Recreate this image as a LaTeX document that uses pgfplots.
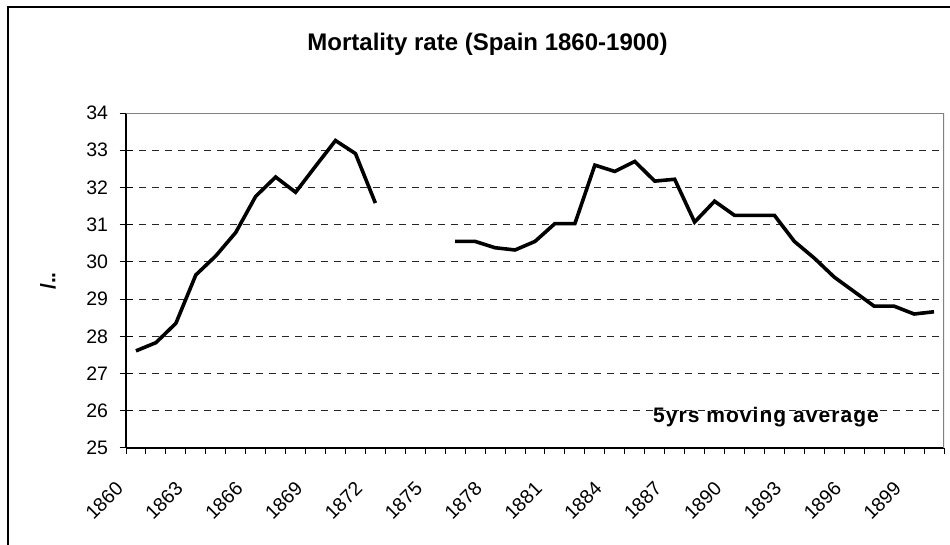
\documentclass[border=0pt]{standalone}
\usepackage{pgfplots}
\pgfplotsset{compat=1.18}
\usepackage{fontspec}
\setmainfont{Liberation Sans}
\begin{document}
\begin{tikzpicture}
\useasboundingbox (0,0) rectangle (950pt,545pt);
\fill[white] (0,0) rectangle (950pt,545pt);
\begin{axis}[
  at={(126pt,97pt)}, anchor=south west,
  scale only axis, width=818pt, height=335pt,
  xmin=1859.5, xmax=1900.5, ymin=25, ymax=34,
  axis lines*=left,
  axis line style={black, line width=1.5pt},
  ytick={25,26,...,34},
  xtick={1860,1863,...,1899},
  xticklabels={1860,1863,1866,1869,1872,1875,1878,1881,1884,1887,1890,1893,1896,1899},
  minor xtick={1859.5,1860.5,...,1900.5},
  major x tick style={draw=none},
  minor x tick style={black, line width=1pt},
  minor tick length=6pt,
  xtick align=outside,
  ytick align=center,
  major tick length=13pt,
  major y tick style={black, line width=1pt},
  ymajorgrids,
  major grid style={black!85, line width=1pt, dash pattern=on 7pt off 6pt},
  /pgf/number format/assume math mode=true,
  tick label style={font=\fontsize{19.5}{22}\selectfont},
  yticklabel style={xshift=-8pt},
  xticklabel style={xshift=-14pt, yshift=-22pt, rotate=45, anchor=east},
  unbounded coords=jump,
]
\addplot[black, line width=3.6pt, mark=none] table {
x y
1860 27.61
1861 27.83
1862 28.35
1863 29.65
1864 30.16
1865 30.79
1866 31.76
1867 32.28
1868 31.87
1869 32.57
1870 33.26
1871 32.91
1872 31.58
1873 nan
1874 nan
1875 nan
1876 30.55
1877 30.55
1878 30.38
1879 30.32
1880 30.55
1881 31.03
1882 31.03
1883 32.60
1884 32.43
1885 32.70
1886 32.17
1887 32.22
1888 31.07
1889 31.63
1890 31.25
1891 31.25
1892 31.25
1893 30.55
1894 30.10
1895 29.59
1896 29.20
1897 28.81
1898 28.81
1899 28.60
1900 28.66
};
\draw[black!50, line width=2pt] (rel axis cs:0,1) -- (rel axis cs:1,1) -- (rel axis cs:1,0);
\end{axis}
\draw[black, line width=1.5pt] (8pt,-5pt) -- (8pt,538pt) -- (960pt,538pt);
\node[anchor=base, font=\fontsize{24}{28}\selectfont\bfseries] at (487.5pt,494pt) {Mortality rate (Spain 1860-1900)};
\node[anchor=base, font=\fontsize{21}{24}\selectfont\bfseries\addfontfeature{LetterSpace=5}] at (766pt,122pt) {5yrs moving average};
\node[rotate=90, font=\fontsize{21}{24}\selectfont\bfseries] at (48pt,264pt) {/..};
\end{tikzpicture}
\end{document}
